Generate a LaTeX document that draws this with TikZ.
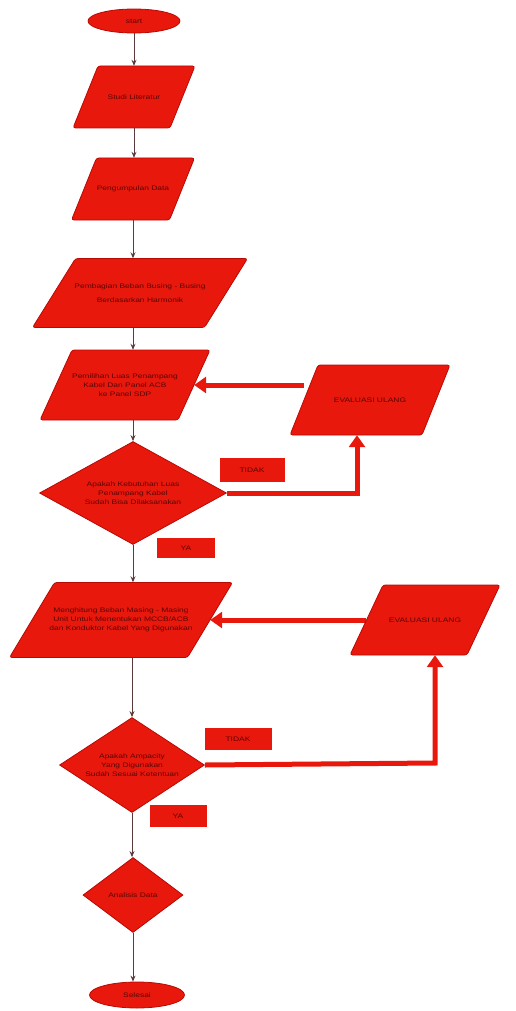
\documentclass[tikz,border=0pt]{standalone}
\usepackage{fontspec}
\setmainfont{Liberation Sans}
\newfontfamily\lbl[FakeStretch=1.3]{Liberation Sans}
\usetikzlibrary{shapes.geometric,arrows.meta,backgrounds}
\definecolor{rd}{HTML}{E8180C}
\definecolor{rdb}{HTML}{B80A05}
\definecolor{txt}{HTML}{5A0505}
\definecolor{ln}{HTML}{5A3A3A}
% parallelogram: name, cx, cy, total width, height, slant, text
\newcommand\parabox[7]{%
  \filldraw[parashape] ({#2-#4/2},{#3+#5/2}) -- ({#2+#4/2-#6},{#3+#5/2}) -- ({#2+#4/2},{#3-#5/2}) -- ({#2-#4/2+#6},{#3-#5/2}) -- cycle;
  \node[parabody,minimum width={(#4-#6)*1pt},minimum height={#5*1pt}] (#1) at (#2,#3) {#7};}
\begin{document}
\begin{tikzpicture}[x=1pt,y=-1pt,
  base/.style={fill=rd,draw=rdb,line width=0.8pt,text=txt,font=\lbl\fontsize{6.5}{9}\selectfont,align=center,inner sep=1pt},
  parashape/.style={fill=rd,draw=rdb,line width=0.8pt,rounded corners=2.5pt},
  parabody/.style={rectangle,text=txt,font=\lbl\fontsize{6.5}{9}\selectfont,align=center,inner sep=0pt},
  term/.style={base,ellipse},
  dec/.style={base,diamond},
  tag/.style={base,rectangle,draw=none},
  flow/.style={draw=ln,line width=1pt,-{Stealth[length=6pt,width=5pt]}},
  backarr/.style={draw=rd,line width=5pt,line join=miter,-{Triangle[length=12pt,width=16pt]}}]
\useasboundingbox (0,0) rectangle (516,1011);

\node[term,minimum width=92pt,minimum height=24pt] (start) at (134,21) {start};
\parabox{studi}{134}{97}{122}{62}{25}{Studi Literatur}
\parabox{peng}{133}{189}{123}{62}{25}{Pengumpulan Data}
\parabox{pemb}{140}{293}{215}{69}{43}{Pembagian Beban Busing - Busing\\[5pt] Berdasarkan Harmonik}
\parabox{pemil}{125}{385}{170}{70}{32}{Pemilihan Luas Penampang\\ Kabel Dan Panel ACB\\ ke Panel SDP}
\parabox{ev1}{370}{400}{160}{70}{28}{EVALUASI ULANG}
\node[dec,aspect=1.8,minimum width=187pt,minimum height=103pt] (d1) at (133,493) {Apakah Kebutuhan Luas\\ Penampang Kabel\\ Sudah Bisa Dilaksanakan};
\node[tag,minimum width=65pt,minimum height=24pt] (t1) at (252,470) {TIDAK};
\node[tag,minimum width=58pt,minimum height=20pt] (y1) at (186,548) {YA};
\parabox{mh}{121}{620}{223}{75}{45}{Menghitung Beban Masing - Masing\\ Unit Untuk Menentukan MCCB/ACB\\ dan Konduktor Kabel Yang Digunakan}
\parabox{ev2}{425}{620}{150}{70}{33}{EVALUASI ULANG}
\node[dec,aspect=1.5,minimum width=145pt,minimum height=95pt] (d2) at (132,765) {Apakah Ampacity\\ Yang Digunakan\\ Sudah Sesuai Ketentuan};
\node[tag,minimum width=67pt,minimum height=22pt] (t2) at (238,739) {TIDAK};
\node[tag,minimum width=57pt,minimum height=22pt] (y2) at (178,816) {YA};
\node[dec,aspect=1.33,minimum width=100pt,minimum height=75pt] (an) at (133,895) {Analisis Data};
\node[term,minimum width=95pt,minimum height=26pt] (sel) at (137,995) {Selesai};

\coordinate (c1) at (357,493);
\coordinate (c2) at (435,763);

\draw[flow] (start.south) -- (start.south |- studi.north);
\draw[flow] (studi.south) -- (studi.south |- peng.north);
\draw[flow] (peng.south) -- (peng.south |- pemb.north);
\draw[flow] (d1.north |- pemb.south) -- (d1.north |- pemil.north);
\draw[flow] (d1.north |- pemil.south) -- (d1.north);
\draw[flow] (d1.south) -- (d1.south |- mh.north);
\draw[flow] (d2.north |- mh.south) -- (d2.north);
\draw[flow] (d2.south) -- (d2.south |- an.north);
\draw[flow] (an.south) -- (an.south |- sel.north);

\begin{scope}[on background layer]
\draw[backarr] (d1.east) -- (c1) -- (c1 |- ev1.south);
\draw[backarr] (ev1.west |- pemil.east) -- (pemil.east);
\draw[backarr] (d2.east) -- (c2) -- (c2 |- ev2.south);
\draw[backarr] (ev2.west) -- (mh.east);
\end{scope}
\end{tikzpicture}
\end{document}
